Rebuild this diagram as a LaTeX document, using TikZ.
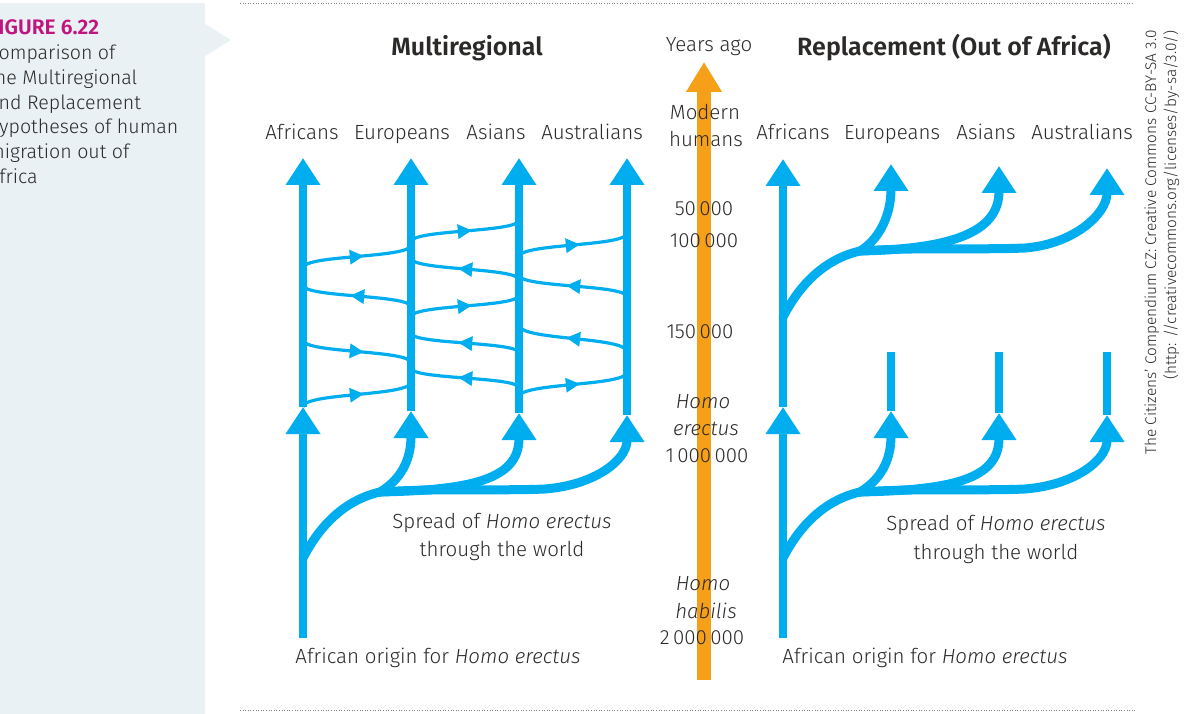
\documentclass[tikz,border=0pt]{standalone}
\usepackage{fontspec}
\setmainfont{Fira Sans Light}[BoldFont={Fira Sans SemiBold},ItalicFont={Fira Sans Light Italic}]
\usetikzlibrary{arrows.meta,decorations.markings,calc}
\definecolor{sky}{HTML}{00AEEF}
\definecolor{amber}{HTML}{F6A01A}
\definecolor{panelbg}{HTML}{E9F1F4}
\definecolor{magen}{HTML}{C0157F}
\definecolor{ink}{HTML}{2B2A29}
\newcommand{\migr}[4]{\draw[mig] (#1,#2) .. controls ($(#1,#2)!0.58!(#1,#4)$) and ($(#3,#4)!0.58!(#3,#2)$) .. (#3,#4);}
\newcommand{\spreadtree}[4]{%
 \coordinate (#4b) at ({303+#1},{558+#2});
 \coordinate (#4f) at ({380+#1},{492+#2});
 \coordinate (#4m) at ({545+#1},{489+#2});
 \coordinate (#4e) at ({411+#1},{411+#2-#3});
 \coordinate (#4s) at ({519+#1},{413+#2-#3});
 \coordinate (#4u) at ({627+#1},{415+#2-#3});
 \draw[spread] (#4b) .. controls +(17,-33) and +(-35,8) .. (#4f);
 \draw[spread,bigtip] (#4f) .. controls +(20,-12) and +(0,50) .. (#4e);
 \draw[spread,bigtip] (#4f) .. controls +(90,-2) and +(0,67) .. (#4s);
 \draw[spread,bigtip] (#4f) .. controls +(60,-4) and +(-45,2) .. (#4m) .. controls +(50,-4) and +(0,45) .. (#4u);
}
\begin{document}
\begin{tikzpicture}[x=1pt,y=-1pt,
  trunk/.style={sky,line width=8pt},
  bigtip/.style={-{Triangle[width=33pt,length=27pt]}},
  spread/.style={sky,line width=9pt,line cap=round},
  mig/.style={sky,line width=3.2pt,postaction={decorate},
    decoration={markings,mark=at position 0.56 with {\arrow{Triangle[width=14pt,length=14pt]}}}},
  lbl/.style={text=ink,font=\fontsize{20.5}{24}\selectfont,inner sep=0pt,anchor=base},
  side/.style={text=ink,font=\fontsize{19.6}{23}\selectfont,inner sep=0pt,anchor=base west},
  ttl/.style={text=ink,font=\fontsize{25}{30}\selectfont\bfseries,inner sep=0pt,anchor=base},
  cred/.style={text=ink,font=\fontsize{15.4}{18}\selectfont,inner sep=0pt,anchor=base east,rotate=90},
  dotline/.style={gray,line width=0.9pt,dash pattern=on 1pt off 1.6pt}]
\useasboundingbox (0,0) rectangle (1193,714);
\clip (0,0) rectangle (1193,714);
% side panel
\fill[panelbg] (0,3) rectangle (205,714);
\fill[panelbg] (205,24) -- (231,40) -- (205,56) -- cycle;
\node[side,text=magen,font=\fontsize{21}{24}\selectfont\bfseries] (fig) at (-12,35) {FIGURE 6.22};
\foreach \t [count=\i from 0] in {Comparison of,the Multiregional,and Replacement,hypotheses of human,migration out of,Africa}
  \node[side] (side\i) at (-12,{60+24.6*\i}) {\t};
% dotted rules
\coordinate (rt1) at (240,3); \coordinate (rt2) at (1132,3);
\coordinate (rb1) at (240,710); \coordinate (rb2) at (1135,710);
\draw[dotline] (rt1) -- (rt2);
\draw[dotline] (rb1) -- (rb2);
% titles
\node[ttl] (t1) at (467,56) {Multiregional};
\node[ttl] (t2) at (954,56) {Replacement (Out of Africa)};
% column labels
\node[lbl] (la) at (302,140) {Africans};
\node[lbl] (le) at (402,140) {Europeans};
\node[lbl] (ls) at (496,140) {Asians};
\node[lbl] (lu) at (592,140) {Australians};
\node[lbl] (ra) at (793,140) {Africans};
\node[lbl] (re) at (892,140) {Europeans};
\node[lbl] (rs) at (986,140) {Asians};
\node[lbl] (ru) at (1082,140) {Australians};
% migration curves (left)
\migr{303}{268}{411}{245}
\migr{411}{307}{303}{285}
\migr{303}{340}{411}{363}
\migr{303}{407}{411}{382}
\migr{411}{242}{519}{220}
\migr{519}{280}{411}{258}
\migr{411}{317}{519}{295}
\migr{519}{353}{411}{333}
\migr{519}{388}{411}{368}
\migr{519}{257}{627}{233}
\migr{627}{297}{519}{275}
\migr{627}{352}{519}{325}
\migr{519}{397}{627}{372}
% spread trees
\spreadtree{0}{0}{0}{L}
\spreadtree{480}{0}{0}{R}
\spreadtree{480}{-241}{6}{Q}
% left trunks
\coordinate (aLbot) at (303,638); \coordinate (aLmid) at (303,407); \coordinate (aLtop) at (303,158);
\coordinate (eLtop) at (411,158); \coordinate (sLtop) at (519,158); \coordinate (uLtop) at (627,158);
\draw[trunk,bigtip] (aLbot) -- (aLmid);
\draw[trunk,bigtip] (aLmid) -- (aLtop);
\draw[trunk,bigtip] (Le) -- (eLtop);
\draw[trunk,bigtip] (Ls) -- (sLtop);
\draw[trunk,bigtip] (Lu) -- (uLtop);
% right trunks
\coordinate (aRbot) at (783,638); \coordinate (aRmid) at (783,407); \coordinate (aRtop) at (783,159);
\draw[trunk,bigtip] (aRbot) -- (aRmid);
\draw[trunk,bigtip] (aRmid) -- (aRtop);
\coordinate (eRst) at (891,352); \coordinate (sRst) at (999,352); \coordinate (uRst) at (1107,352);
\draw[trunk] (Re) -- (eRst);
\draw[trunk] (Rs) -- (sRst);
\draw[trunk] (Ru) -- (uRst);
% time arrow
\coordinate (tbot) at (704,680); \coordinate (ttop) at (704,62);
\draw[amber,line width=14pt,-{Triangle[width=34pt,length=30pt]}] (tbot) -- (ttop);
\node[lbl] (ya) at (709,52) {Years ago};
\node[lbl] (mh1) at (705,120) {Modern};
\node[lbl] (mh2) at (706,147) {humans};
\node[lbl] (n1) at (704,215) {50\,000};
\node[lbl] (n2) at (704,247) {100\,000};
\node[lbl] (n3) at (700,338) {150\,000};
\node[lbl] (he1) at (703,408) {\itshape Homo};
\node[lbl] (he2) at (706,435) {\itshape erectus};
\node[lbl] (n4) at (707,462) {1\,000\,000};
\node[lbl] (hh1) at (703,590) {\itshape Homo};
\node[lbl] (hh2) at (706,618) {\itshape habilis};
\node[lbl] (n5) at (702,644) {2\,000\,000};
% bottom labels
\node[lbl] (sp1) at (502,528) {Spread of \textit{Homo erectus}};
\node[lbl] (sp2) at (502,556) {through the world};
\node[lbl] (sp3) at (996,530) {Spread of \textit{Homo erectus}};
\node[lbl] (sp4) at (996,559) {through the world};
\node[lbl] (ao1) at (438,663) {African origin for \textit{Homo erectus}};
\node[lbl] (ao2) at (925,663) {African origin for \textit{Homo erectus}};
% credit
\node[cred] (c1) at (1156,30) {The Citizens' Compendium CZ: Creative Commons CC-BY-SA 3.0};
\node[cred] (c2) at (1176,30) {(http: //creativecommons.org/licenses/by-sa/3.0/)};
\end{tikzpicture}
\end{document}
